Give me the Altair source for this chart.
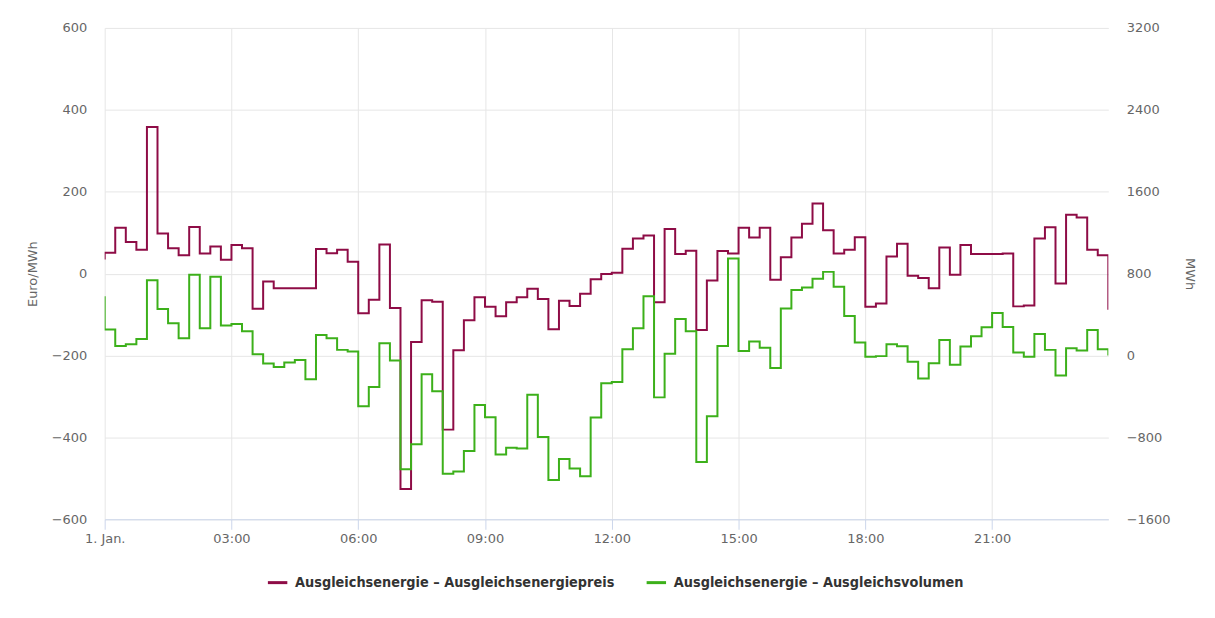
import altair as alt
import pandas as pd

# Quarter-hour values (first value = state just before 00:00, last = 23:45)
price = [37,
         51, 112, 77, 58, 358, 98, 62, 45, 114, 49, 66, 34, 70, 62, -86, -19,
         -36, -36, -36, -36, 60, 50, 58, 29, -97, -64, 71, -84, -526, -167, -65, -69,
         -381, -187, -114, -58, -81, -104, -70, -58, -37, -62, -136, -66, -79, -49, -14, -1,
         2, 61, 86, 93, -70, 109, 48, 56, -138, -17, 55, 49, 112, 88, 112, -15,
         40, 88, 122, 171, 106, 49, 58, 89, -81, -73, 42, 73, -5, -11, -36, 64,
         -3, 70, 48, 48, 48, 49, -80, -78, 86, 113, -24, 144, 137, 58, 45,
         -88]

volume = [568,
          253, 94, 110, 162, 736, 454, 315, 169, 788, 266, 769, 292, 308, 237, 13, -78,
          -113, -68, -45, -233, 201, 169, 55, 39, -496, -308, 120, -49, -1112, -866, -182, -350,
          -1155, -1132, -934, -483, -603, -966, -902, -908, -383, -795, -1216, -1012, -1103, -1180, -606, -272,
          -259, 62, 266, 580, -409, 16, 357, 237, -1041, -593, 94, 947, 45, 136, 75, -123,
          460, 639, 665, 749, 817, 671, 386, 126, -13, -6, 110, 91, -62, -224, -75, 152,
          -91, 88, 188, 276, 415, 279, 29, -13, 211, 55, -195, 71, 49, 250, 62,
          0]

hours = [-0.25 + 0.25 * i for i in range(len(price))]

series_names = ["Ausgleichsenergie – Ausgleichsenergiepreis",
                "Ausgleichsenergie – Ausgleichsvolumen"]
series_colors = ["#8e0c46", "#3cb01a"]

x_ticks = [0, 3, 6, 9, 12, 15, 18, 21]
left_ticks = [-600, -400, -200, 0, 200, 400, 600]
right_ticks = [-1600, -800, 0, 800, 1600, 2400, 3200]

df_p = pd.DataFrame({"t": hours, "v": price, "s": series_names[0]})
df_v = pd.DataFrame({"t": hours, "v": volume, "s": series_names[1]})

FONT = "DejaVu Sans"
LEG_FONT = "DejaVu Sans Condensed, Liberation Sans Narrow, DejaVu Sans"
H = 493

x_enc = alt.X(
    "t:Q",
    scale=alt.Scale(domain=[0, 23.75], nice=False, zero=False),
    axis=alt.Axis(
        values=x_ticks,
        labelExpr="datum.value == 0 ? '1. Jan.' : (datum.value < 10 ? '0' : '') + datum.value + ':00'",
        grid=True, gridColor="#e6e6e6", gridWidth=1,
        domainColor="#ccd6eb", tickColor="#ccd6eb", tickSize=10,
        labelPadding=3, labelFont=FONT, labelFontSize=13, labelColor="#666666",
        labelFlush=False, labelOverlap=False, title=None,
    ),
)

color_enc = alt.Color(
    "s:N",
    scale=alt.Scale(domain=series_names, range=series_colors),
    legend=alt.Legend(
        title=None, orient="none", direction="horizontal",
        legendX=162, legendY=545,
        symbolType="stroke", symbolStrokeWidth=3, symbolSize=380,
        labelFont=LEG_FONT, labelFontSize=14.4, labelFontWeight="bold",
        labelColor="#333333", labelOffset=6, labelLimit=500,
        columnPadding=25, padding=0,
    ),
)

price_line = alt.Chart(df_p).mark_line(
    interpolate="step-after", strokeWidth=2, clip=True
).encode(
    x=x_enc,
    y=alt.Y(
        "v:Q",
        scale=alt.Scale(domain=[-600, 600], nice=False, zero=False),
        axis=alt.Axis(
            orient="left", values=left_ticks, format="d", grid=True, gridColor="#e6e6e6",
            domain=False, ticks=False, tickSize=0, labelPadding=18,
            labelFont=FONT, labelFontSize=13, labelColor="#666666",
            labelFlush=False, labelOverlap=False,
            title="Euro/MWh", titleFont=FONT, titleFontSize=13,
            titleFontWeight="normal", titleColor="#666666",
            titleX=-72, titleY=H / 2, titleAngle=-90,
            titleAlign="center", titleBaseline="middle",
        ),
    ),
    color=color_enc,
)

vol_line = alt.Chart(df_v).mark_line(
    interpolate="step-after", strokeWidth=2, clip=True
).encode(
    x=x_enc,
    y=alt.Y(
        "v:Q",
        scale=alt.Scale(domain=[-1600, 3200], nice=False, zero=False),
        axis=alt.Axis(
            orient="right", values=right_ticks, format="d", grid=False,
            domain=False, ticks=False, tickSize=0, labelPadding=18,
            labelFont=FONT, labelFontSize=13, labelColor="#666666",
            labelFlush=False, labelOverlap=False,
            title="MWh", titleFont=FONT, titleFontSize=13,
            titleFontWeight="normal", titleColor="#666666",
            titleX=81, titleY=H / 2, titleAngle=90,
            titleAlign="center", titleBaseline="middle",
        ),
    ),
    color=color_enc,
)

chart = alt.layer(price_line, vol_line).resolve_scale(
    y="independent"
).properties(
    width=1007, height=H,
    autosize=alt.AutoSizeParams(type="none"),
    padding={"left": 97, "top": 19, "right": 99, "bottom": 88},
    background="white",
).configure_view(stroke=None)

chart.save("out.html", embed_options={"renderer": "svg", "actions": False})
